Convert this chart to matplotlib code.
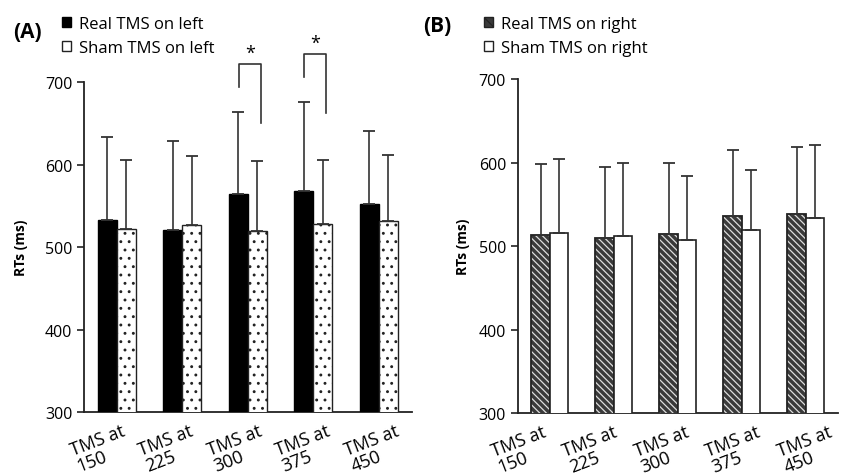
import numpy as np
import matplotlib
matplotlib.use("Agg")
import matplotlib.pyplot as plt
from matplotlib.patches import Patch
from matplotlib.transforms import ScaledTranslation

plt.rcParams["font.family"] = ["Open Sans", "DejaVu Sans"]
plt.rcParams["hatch.linewidth"] = 0.9

labels = ["TMS at\n150", "TMS at\n225", "TMS at\n300", "TMS at\n375", "TMS at\n450"]

# panel A (left hemisphere)
real_left = [533, 521, 564, 568, 552]
real_left_top = [633, 628, 664, 676, 641]
sham_left = [522, 527, 520, 528, 532]
sham_left_top = [606, 610, 604, 605, 611]

# panel B (right hemisphere)
real_right = [513, 510, 515, 536, 539]
real_right_top = [598, 595, 599, 615, 619]
sham_right = [516, 512, 507, 519, 534]
sham_right_top = [604, 599, 584, 591, 621]

# significant pairs in panel A
sig_groups = [2, 3]

fs = 11.5
w = 0.29
x = np.arange(len(labels))
ecolor = "#333333"

fig = plt.figure(figsize=(8.42, 4.77), dpi=100)
axA = fig.add_axes([0.0998, 0.134, 0.389, 0.692])
axB = fig.add_axes([0.615, 0.132, 0.38, 0.700])


def style_axis(ax, pad, shift0, shift_step):
    ax.set_xlim(-0.5, 4.5)
    ax.set_ylim(300, 700)
    ax.set_yticks([300, 400, 500, 600, 700])
    ax.spines["top"].set_visible(False)
    ax.spines["right"].set_visible(False)
    for s in ("left", "bottom"):
        ax.spines[s].set_linewidth(1.3)
        ax.spines[s].set_color("#222222")
    ax.tick_params(axis="y", labelsize=fs, length=5, width=1.2, color="#222222")
    ax.tick_params(axis="x", length=0, pad=7)
    ax.set_xticks(x)
    ax.set_xticklabels(labels, fontsize=13, rotation=21, ha="center",
                       multialignment="left", linespacing=0.95)
    # nudge the rotated labels to the left, like the original
    for i, t in enumerate(ax.get_xticklabels()):
        dx = (shift0 + shift_step * i) / 100
        t.set_transform(t.get_transform() + ScaledTranslation(dx, 0, fig.dpi_scale_trans))
    ax.set_ylabel("RTs (ms)", fontsize=10, fontweight="bold", labelpad=pad)


def add_err(ax, xs, means, tops):
    means = np.array(means)
    tops = np.array(tops)
    ax.errorbar(xs, tops, yerr=[tops - means, np.zeros_like(tops)], fmt="none",
                ecolor=ecolor, elinewidth=1.2, capsize=4.5, capthick=1.3, zorder=4)


# ---- panel A ----
axA.bar(x - w / 2, real_left, w, color="black", edgecolor="black",
        linewidth=1, zorder=3)
axA.bar(x + w / 2, sham_left, w, color="white", edgecolor="#222222",
        hatch="..", linewidth=1, zorder=3)
add_err(axA, x - w / 2, real_left, real_left_top)
add_err(axA, x + w / 2, sham_left, sham_left_top)
style_axis(axA, 12, -16, 3)

for g in sig_groups:
    lb = real_left_top[g] + 30
    top = lb + 28
    rb = top - 72
    xl, xr = g - 0.14, g + 0.2
    axA.plot([xl, xl, xr, xr], [lb, top, top, rb], color=ecolor, lw=1.2,
             clip_on=False, zorder=5)
    axA.text((xl + xr) / 2, top + 3, "*", ha="center", va="bottom",
             fontsize=13, clip_on=False)

hA = [Patch(facecolor="black", edgecolor="black"),
      Patch(facecolor="white", edgecolor="#222222", hatch=".")]
axA.legend(hA, ["Real TMS on left", "Sham TMS on left"], loc="upper left",
           bbox_to_anchor=(0.064, 0.982), bbox_transform=fig.transFigure,
           frameon=False, fontsize=12, handlelength=0.55, handleheight=0.55,
           handletextpad=0.45, labelspacing=0.5, borderpad=0)
fig.text(0.015, 0.932, "(A)", fontsize=15, fontweight="bold", va="center")

# ---- panel B ----
axB.bar(x - w / 2, real_right, w, color="#3a3a3a", edgecolor="#dddddd",
        hatch="\\\\\\\\\\", linewidth=0, zorder=3)
axB.bar(x - w / 2, real_right, w, fill=False, edgecolor="#222222",
        linewidth=1.3, zorder=3)
axB.bar(x + w / 2, sham_right, w, color="white", edgecolor="#222222",
        linewidth=1.2, zorder=3)
add_err(axB, x - w / 2, real_right, real_right_top)
add_err(axB, x + w / 2, sham_right, sham_right_top)
style_axis(axB, 6, -28, 7.5)

hB = [Patch(facecolor="#3a3a3a", edgecolor="#222222", hatch="\\\\\\"),
      Patch(facecolor="white", edgecolor="#222222")]
axB.legend(hB, ["Real TMS on right", "Sham TMS on right"], loc="upper left",
           bbox_to_anchor=(0.565, 0.982), bbox_transform=fig.transFigure,
           frameon=False, fontsize=12, handlelength=0.55, handleheight=0.55,
           handletextpad=0.45, labelspacing=0.5, borderpad=0)
fig.text(0.503, 0.945, "(B)", fontsize=15, fontweight="bold", va="center")

fig.savefig("out.png", dpi=100)
